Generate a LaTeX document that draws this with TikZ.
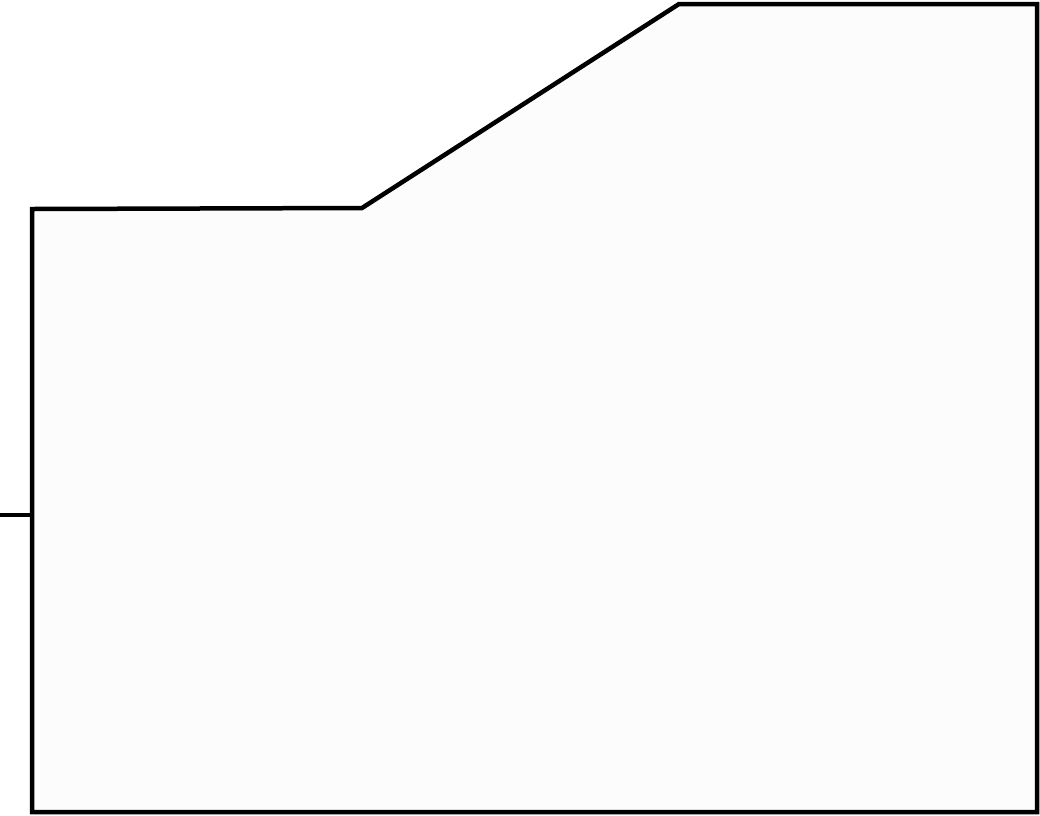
\documentclass[tikz,border=0pt]{standalone}
\usepackage{tikz}
\usepackage{xcolor}
\definecolor{shapefill}{HTML}{FCFCFC}
\tikzset{outline/.style={line width=4.5pt,line join=miter}}

\begin{document}
\begin{tikzpicture}[x=1pt,y=-1pt]
                \useasboundingbox (0,0) rectangle (1040,815);
                \coordinate (lefttop) at (32,209);
                \coordinate (stepend) at (362,208);
                \coordinate (slopetop) at (679,4);
                \coordinate (righttop) at (1037,4);
                \coordinate (rightbot) at (1037,812);
                \coordinate (leftbot) at (32,812);
                \coordinate (tickend) at (0,515);
                \coordinate (tickbase) at (32,515);
                \draw[outline,fill=shapefill] (lefttop) -- (stepend) -- (slopetop) -- (righttop) -- (rightbot) -- (leftbot) -- cycle;
                \draw[outline] (tickend) -- (tickbase);
            \end{tikzpicture}
\end{document}
